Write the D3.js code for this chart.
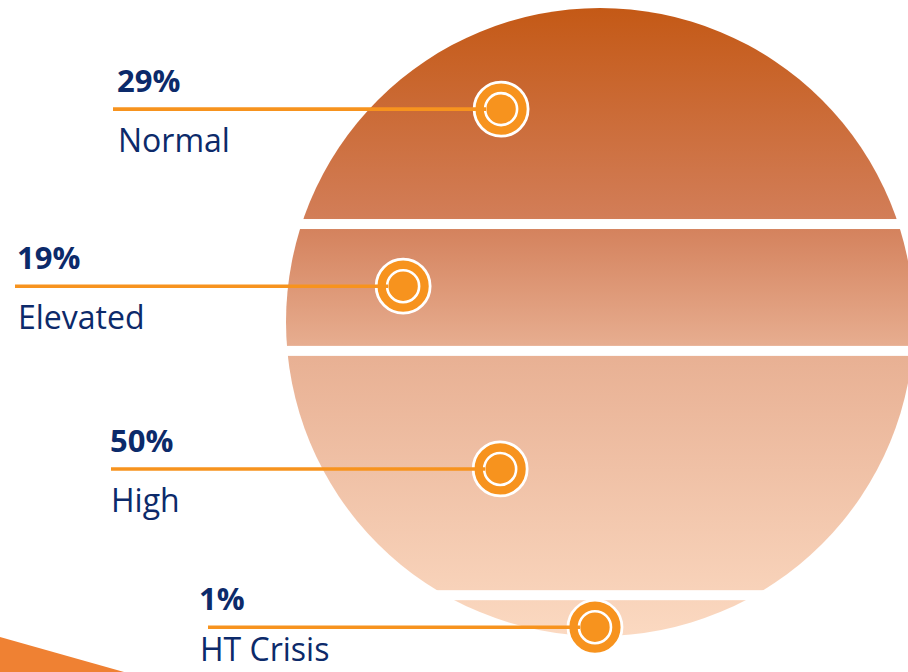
<!DOCTYPE html>
<html>
<head>
<meta charset="utf-8">
<script src="https://cdn.jsdelivr.net/npm/d3@7/dist/d3.min.js"></script>
<style>
  html, body { margin: 0; padding: 0; background: #fff; }
  svg { display: block; }
</style>
</head>
<body>
<svg id="chart" width="908" height="672"></svg>
<script>
// ---- data ----
const categories = ["Normal", "Elevated", "High", "HT Crisis"];
const values = [29, 19, 50, 1];
const valueLabels = ["29%", "19%", "50%", "1%"];

// ---- layout (fractions of the circle's diameter / radius) ----
const bandBreaks = [0.344, 0.546, 0.935];      // vertical gaps between bands
const leaderY = [0.161, 0.443, 0.734, 0.986];  // leader line heights
const markerX = [-0.315, -0.627, -0.318, -0.016]; // marker x, in radius units from centre
const labelX = [117, 17, 110, 199];
const lineX = [113, 15, 111, 208];

const W = 908, H = 672;
const cx = 600, cy = 322, r = 314, gap = 10;

const svg = d3.select("#chart");
const defs = svg.append("defs");

const y = d3.scaleLinear().domain([0, 1]).range([cy - r, cy + r]);
const x = d3.scaleLinear().domain([-1, 1]).range([cx - r, cx + r]);

const grad = defs.append("linearGradient")
  .attr("id", "bandGrad")
  .attr("gradientUnits", "userSpaceOnUse")
  .attr("x1", 0).attr("x2", 0)
  .attr("y1", y(0)).attr("y2", y(1));
grad.append("stop").attr("offset", "0%").attr("stop-color", "#c45916");
grad.append("stop").attr("offset", "33%").attr("stop-color", "#d27d57");
grad.append("stop").attr("offset", "55%").attr("stop-color", "#e8b093");
grad.append("stop").attr("offset", "100%").attr("stop-color", "#fbd9c1");

defs.append("clipPath").attr("id", "circClip")
  .append("circle").attr("cx", cx).attr("cy", cy).attr("r", r);

// decorative swoosh bottom-left
svg.append("path")
  .attr("d", `M0,${H - 35} L124,${H} L0,${H} Z`)
  .attr("fill", "#ef8133");

// bands
const edges = [0, ...bandBreaks, 1];
const bands = categories.map((c, i) => ({
  cat: c,
  value: values[i],
  top: y(edges[i]) + (i === 0 ? 0 : gap / 2),
  bottom: y(edges[i + 1]) - (i === categories.length - 1 ? 0 : gap / 2)
}));

svg.append("g").attr("clip-path", "url(#circClip)")
  .selectAll("rect").data(bands).join("rect")
  .attr("x", cx - r - 2)
  .attr("width", 2 * r + 4)
  .attr("y", d => d.top)
  .attr("height", d => d.bottom - d.top)
  .attr("fill", "url(#bandGrad)");

const orange = "#f7931e";
const navy = "#0c2a6a";
const outerR = 27, innerR = 16;

const items = categories.map((c, i) => ({
  cat: c,
  label: valueLabels[i],
  ly: y(leaderY[i]),
  mx: x(markerX[i]),
  tx: labelX[i],
  lx: lineX[i]
}));

const g = svg.append("g").selectAll("g").data(items).join("g");

// marker outer
g.append("circle")
  .attr("cx", d => d.mx).attr("cy", d => d.ly)
  .attr("r", outerR)
  .attr("fill", orange)
  .attr("stroke", "#fff").attr("stroke-width", 2.8);
// inner ring
g.append("circle")
  .attr("cx", d => d.mx).attr("cy", d => d.ly)
  .attr("r", innerR)
  .attr("fill", orange)
  .attr("stroke", "#fff").attr("stroke-width", 2.6);
// leader line
g.append("line")
  .attr("x1", d => d.lx).attr("x2", d => d.mx - innerR + 1)
  .attr("y1", d => d.ly).attr("y2", d => d.ly)
  .attr("stroke", orange).attr("stroke-width", 3.6);

g.append("text")
  .attr("x", d => d.tx).attr("y", d => d.ly - 17)
  .attr("font-family", "'Open Sans', sans-serif")
  .attr("font-weight", 700)
  .attr("font-size", 31)
  .attr("fill", navy)
  .text(d => d.label);

g.append("text")
  .attr("x", d => d.tx + 1).attr("y", d => Math.min(d.ly + 43, H - 11))
  .attr("font-family", "'Open Sans', sans-serif")
  .attr("font-weight", 400)
  .attr("font-size", 32)
  .attr("fill", navy)
  .text(d => d.cat);
</script>
</body>
</html>
